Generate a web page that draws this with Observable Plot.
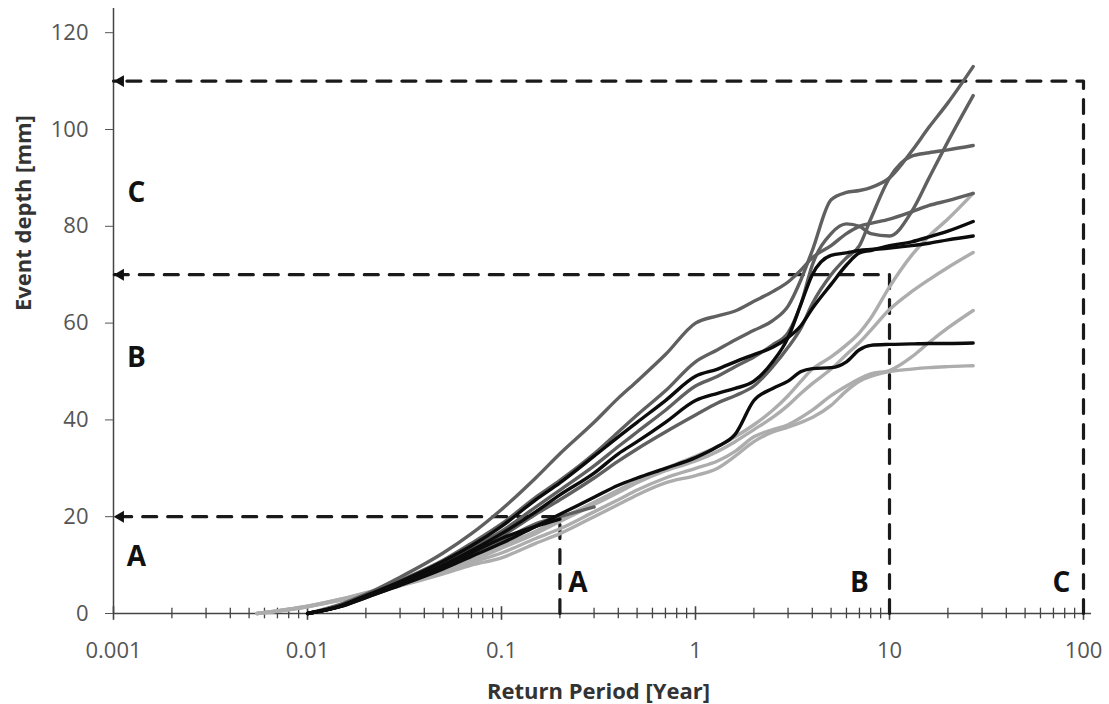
<!DOCTYPE html>
<html>
<head>
<meta charset="utf-8">
<script src="https://cdn.jsdelivr.net/npm/d3@7"></script>
<script src="https://cdn.jsdelivr.net/npm/@observablehq/plot@0.6"></script>
<style>
  body { margin: 0; background: #fff; }
  #chart svg { display: block; }
</style>
</head>
<body>
<div id="chart"></div>
<script>
// Return periods (years) at which each curve was read
const periods = [0.0055, 0.01, 0.015, 0.02, 0.03, 0.05, 0.07, 0.1, 0.15, 0.2, 0.3, 0.4, 0.5, 0.7, 1, 1.3, 1.6, 2, 2.5, 3, 3.5, 4, 5, 6, 7, 8, 10, 13, 16, 20, 27];

// Event depth curves [mm]
const darkA = [null, 0, 2, 4, 7.5, 12.5, 16.5, 21.5, 28, 33, 39.5, 44.5, 48, 53.5, 60, 61.5, 62.5, 64.5, 66.5, 68.5, 71, 73.5, 76, 78.5, 80, 80.6, 81.5, 83, 84.3, 85.3, 86.8];
const darkB = [null, 0, 1.8, 3.8, 6.8, 11, 14.5, 18.5, 24, 27.5, 33, 37.5, 41, 46, 52, 54.5, 56.5, 58.5, 60.5, 63.5, 69, 75, 85.5, 87, 87.4, 88, 90, 95.5, 100.5, 105.5, 113];
const darkC = [null, 0, 1.7, 3.6, 6.3, 10.3, 13.5, 17, 22, 25.5, 30.5, 34.5, 37.5, 42, 47, 49, 51, 53, 55.5, 58, 64, 72, 78.5, 80.5, 80, 78.5, 78, 83, 90, 97.5, 107];
const darkD = [null, 0, 1.6, 3.5, 6, 9.8, 12.8, 16, 20.5, 23.5, 28, 31.5, 34, 37.5, 41, 43.5, 45, 47, 51, 55, 59, 64, 70, 73.5, 76, 81.5, 90, 94.5, 95.2, 95.8, 96.7];
const darkE = [null, 0, 1.5, 3.3, 5.9, 9.4, 12.2, 15, 18.5, 20, 22, null, null, null, null, null, null, null, null, null, null, null, null, null, null, null, null, null, null, null, null];
const blackA = [null, 0, 1.7, 3.7, 6.6, 10.8, 14, 18, 23.5, 27, 32.5, 36.5, 39.5, 44, 49, 50.5, 52, 53.5, 55, 57, 59.5, 63, 68, 72, 74.5, 75, 76, 76.8, 77.8, 79, 81];
const blackB = [null, 0, 1.6, 3.5, 6.2, 10, 13, 16.5, 21, 24.5, 29, 33, 35.5, 39.5, 44, 45.5, 46.5, 48, 52, 57, 64, 70, 74, 74.5, 75, 75.2, 75.5, 76, 76.5, 77.2, 78];
const blackC = [null, 0, 1.5, 3.3, 5.8, 9.2, 11.8, 14.5, 18, 20.5, 24, 26.5, 28, 30, 32.2, 34.5, 37, 44, 46.5, 48, 50, 50.6, 50.8, 52, 54.5, 55.4, 55.6, 55.7, 55.8, 55.8, 55.9];
const blackD = [null, 0, 1.6, 3.4, 6, 9.6, 12.5, 15.5, 18, 19.5, null, null, null, null, null, null, null, null, null, null, null, null, null, null, null, null, null, null, null, null, null];
const lightA = [0, 1.5, 3, 4.3, 6.3, 9, 11.2, 14, 17, 19.5, 23, 25.5, 27.5, 30, 32.5, 34.5, 36.5, 39, 42, 45, 48, 50.5, 53, 55.5, 58, 61, 67.5, 74, 78, 81.5, 86.8];
const lightB = [0, 1.5, 3, 4.2, 6.2, 8.8, 10.8, 13.5, 16.5, 19, 22.5, 25, 27, 29.5, 31.5, 33.5, 35.5, 38, 40.5, 43, 45.5, 47.5, 50.5, 53.5, 56, 58.5, 62.8, 66.5, 69, 71.5, 74.6];
const lightC = [0, 1.4, 2.9, 4, 6, 8.5, 10.5, 12.5, 15.5, 17.5, 21, 23.5, 25.5, 28, 30, 31.5, 33.5, 36.5, 38, 39, 40.5, 42, 45, 47, 48.5, 49.5, 50.2, 53, 56, 59, 62.6];
const lightD = [0, 1.4, 2.8, 3.9, 5.7, 8.2, 10, 11.5, 14.5, 16.5, 20, 22.5, 24.5, 27, 28.5, 30, 32.5, 35.5, 37.5, 38.5, 39.5, 40.5, 43, 46, 48, 49, 50, 50.5, 50.8, 51, 51.2];

const seriesNames = ["lightA", "lightB", "lightC", "lightD", "darkA", "darkB", "darkC", "darkD", "darkE", "blackA", "blackB", "blackC", "blackD"];
const seriesTones = ["light", "light", "light", "light", "dark", "dark", "dark", "dark", "dark", "black", "black", "black", "black"];
const seriesValues = [lightA, lightB, lightC, lightD, darkA, darkB, darkC, darkD, darkE, blackA, blackB, blackC, blackD];

// Axes
const xTicksMajor = [0.001, 0.01, 0.1, 1, 10, 100];
const yTicks = [0, 20, 40, 60, 80, 100, 120];

// Reference return periods / depths (A, B, C)
const refLabels = ["A", "B", "C"];
const refPeriods = [0.2, 10, 100];
const refDepths = [20, 70, 110];

// ---- build tables ----
const rows = [];
seriesValues.forEach((vals, s) => {
  vals.forEach((v, i) => {
    if (v != null) rows.push({series: seriesNames[s], tone: seriesTones[s], period: periods[i], depth: v});
  });
});

const refRows = [];
refPeriods.forEach((p, i) => {
  refRows.push({id: i, period: p, depth: 0});
  refRows.push({id: i, period: p, depth: refDepths[i]});
  refRows.push({id: i, period: 0.001, depth: refDepths[i]});
});

const minorTicks = [];
[0.001, 0.01, 0.1, 1, 10].forEach(dec => {
  for (let k = 2; k <= 9; k++) minorTicks.push(+(dec * k).toPrecision(3));
});

const chart = Plot.plot({
  width: 1109,
  height: 704,
  marginLeft: 113,
  marginRight: 26,
  marginTop: 8,
  marginBottom: 91,
  style: {fontFamily: "'Open Sans', sans-serif", fontSize: "22px", color: "#555", background: "#fff"},
  x: {type: "log", domain: [0.001, 100]},
  y: {domain: [0, 125]},
  color: {domain: ["light", "dark", "black"], range: ["#adadad", "#606060", "#0c0c0c"]},
  marks: [
    Plot.ruleY([0], {x1: 0.001, x2: 110, stroke: "#444", strokeWidth: 1.5}),
    Plot.ruleX([0.001], {y1: 0, y2: 125, stroke: "#444", strokeWidth: 1.5}),
    Plot.ruleX(minorTicks, {x: d => d, y1: -1.1, y2: 1.1, stroke: "#444", strokeWidth: 1.3}),
    Plot.ruleX(xTicksMajor, {x: d => d, y1: -1.4, y2: 1.4, stroke: "#444", strokeWidth: 1.6}),
    Plot.axisX({ticks: xTicksMajor, tickSize: 0, tickPadding: 29, tickFormat: d => String(d), label: null}),
    Plot.axisY({ticks: yTicks, tickSize: 8, tickPadding: 17, label: null}),
    Plot.line(refRows, {x: "period", y: "depth", z: "id", stroke: "#1a1a1a", strokeWidth: 3.2, strokeDasharray: "14,11"}),
    Plot.dot(refDepths, {x: () => 0.001, y: d => d, symbol: "triangle", rotate: -90, r: 4.4, fill: "#111", dx: 7}),
    Plot.line(rows, {x: "period", y: "depth", z: "series", stroke: "tone", strokeWidth: 3.4, curve: "monotone-x", strokeLinejoin: "round"}),
    Plot.text(refLabels, {text: d => d, x: () => 0.001, y: (d, i) => [11.6, 52.7, 86.8][i], dx: 23, fontSize: 28, fontWeight: "bold", fill: "#111", lineAnchor: "middle"}),
    Plot.text(refLabels, {text: d => d, x: (d, i) => [0.248, 7.0, 77][i], y: () => 6.3, fontSize: 28, fontWeight: "bold", fill: "#111", lineAnchor: "middle"}),
    Plot.text(["Return Period [Year]"], {text: d => d, frameAnchor: "bottom", dy: 78, fontSize: 22, fontWeight: "bold", fill: "#333", lineAnchor: "middle"}),
    Plot.text(["Event depth [mm]"], {text: d => d, frameAnchor: "left", dx: -90, rotate: -90, fontSize: 22, fontWeight: "bold", fill: "#333", lineAnchor: "middle"})
  ]
});
document.getElementById("chart").appendChild(chart);
</script>
</body>
</html>
